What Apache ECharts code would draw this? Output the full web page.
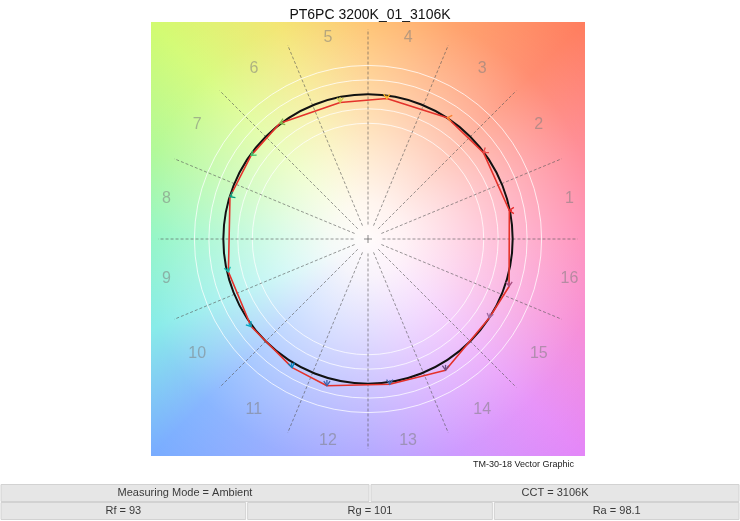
<!DOCTYPE html>
<html>
<head>
<meta http-equiv="Content-Type" content="text/html;charset=utf-8" />
<title>TM-30-18 Vector Graphic</title>
<script src="https://cdnjs.cloudflare.com/ajax/libs/echarts/6.0.0/echarts.min.js"></script>
<style>
  html, body { margin: 0; padding: 0; background: #fff; }
  #vetor { width: 740px; height: 521px; }
</style>
</head>
<body>
<div id="vetor"></div>
<script>

	var titulo = 'PT6PC 3200K_01_3106K';
	var rodape = 'TM-30-18 Vector Graphic';

	var rotulos = ['1','2','3','4','5','6','7','8','9','10','11','12','13','14','15','16'];
	var angulosCentro = [11.25, 33.75, 56.25, 78.75, 101.25, 123.75, 146.25, 168.75, 191.25, 213.75, 236.25, 258.75, 281.25, 303.75, 326.25, 348.75];
	var angulosLimite = [0, 22.5, 45, 67.5, 90, 112.5, 135, 157.5, 180, 202.5, 225, 247.5, 270, 292.5, 315, 337.5];
	var coresBins = ['#e62828','#e74b4b','#fb812e','#ffb529','#cbca46','#7eb94c','#41c06d','#009c7c','#16bcb0','#00a4bf','#0085c3','#3b62aa','#4568ae','#6a4e85','#9d69a1','#a74f81'];

	// fonte de teste (poligono vermelho)
	var testeX = [0.977, 0.798, 0.548, 0.130, -0.193, -0.609, -0.808, -0.954, -0.965, -0.808, -0.524, -0.284, 0.150, 0.536, 0.838, 0.975];
	var testeY = [0.197, 0.597, 0.838, 0.971, 0.944, 0.800, 0.578, 0.292, -0.227, -0.605, -0.889, -1.014, -1.004, -0.907, -0.546, -0.328];
	// origem das setas (referencia)
	var refX = [0.995, 0.812, 0.565, 0.130, -0.193, -0.588, -0.790, -0.938, -0.972, -0.825, -0.530, -0.284, 0.150, 0.536, 0.845, 0.975];
	var refY = [0.197, 0.607, 0.835, 0.992, 0.982, 0.808, 0.592, 0.300, -0.200, -0.583, -0.858, -0.975, -0.978, -0.870, -0.515, -0.295];

	var aneis = [0.8, 0.9, 1.1, 1.2];
	var referencia = [1];

	var linha1 = ['Measuring Mode = Ambient', 'CCT = 3106K'];
	var linha2 = ['Rf = 93', 'Rg = 101', 'Ra = 98.1'];

	// cores do fundo (angulo de matiz -> cor)
	var fundoAngulos = [0, 22.5, 45, 67.5, 90, 112.5, 135, 157.5, 180, 202.5, 225, 247.5, 270, 292.5, 315, 337.5];
	var fundoCores = ['#ff7fb0','#ff7f8c','#ff7d5e','#ff975a','#ffb95a','#f2e262','#d2fb70','#a8f88c','#7ef4bc','#78e9e6','#78acff','#8ea2ff','#a497ff','#c78dff','#e486f8','#f680d2'];

	var fonte = '"Liberation Sans", Arial, Helvetica, sans-serif';

	function criaFundo(lado) {
		var c = document.createElement('canvas');
		c.width = lado; c.height = lado;
		var ctx = c.getContext('2d');
		var m = lado / 2;
		if (ctx.createConicGradient) {
			var g = ctx.createConicGradient(0, m, m);
			var paradas = [];
			for (var i = 0; i < fundoAngulos.length; i++) {
				paradas.push([((360 - fundoAngulos[i]) % 360) / 360, fundoCores[i]]);
			}
			paradas.sort(function(a, b){ return a[0] - b[0]; });
			paradas.forEach(function(p){ g.addColorStop(p[0], p[1]); });
			g.addColorStop(1, fundoCores[0]);
			ctx.fillStyle = g;
			ctx.fillRect(0, 0, lado, lado);
		} else {
			for (var j = 0; j < fundoAngulos.length; j++) {
				var a0 = -(fundoAngulos[j] - 11.25) * Math.PI / 180, a1 = -(fundoAngulos[j] + 11.25) * Math.PI / 180;
				ctx.beginPath(); ctx.moveTo(m, m); ctx.arc(m, m, lado, a0, a1, true); ctx.closePath();
				ctx.fillStyle = fundoCores[j]; ctx.fill();
			}
		}
		var rad = Math.sqrt(2) * m;
		var r = ctx.createRadialGradient(m, m, 0, m, m, rad);
		r.addColorStop(0, 'rgba(255,251,251,1)');
		r.addColorStop(0.12, 'rgba(255,251,251,0.92)');
		r.addColorStop(0.3, 'rgba(255,255,255,0.68)');
		r.addColorStop(0.5, 'rgba(255,255,255,0.42)');
		r.addColorStop(0.75, 'rgba(255,255,255,0.12)');
		r.addColorStop(1, 'rgba(255,255,255,0)');
		ctx.fillStyle = r;
		ctx.fillRect(0, 0, lado, lado);
		return c;
	}

	var gLeft = 151, gTop = 22, gLado = 434;
	var imagemFundo = criaFundo(gLado);

	var graficos = [
		{ type: 'image', left: gLeft, top: gTop, z: -1, silent: true, style: { image: imagemFundo, width: gLado, height: gLado } },
		{ type: 'text', x: 574, y: 465, silent: true, style: { text: rodape, fill: '#222', font: '9px ' + fonte, align: 'right', textAlign: 'right', verticalAlign: 'middle', textVerticalAlign: 'middle' } }
	];

	// tabela de indices
	function linhaTabela(textos, topo, altura) {
		var esq = 1, larg = 738, gap = 2;
		var w = (larg - gap * (textos.length - 1)) / textos.length;
		textos.forEach(function(t, i){
			var x = esq + i * (w + gap);
			graficos.push({ type: 'rect', silent: true, shape: { x: x, y: topo, width: w, height: altura }, style: { fill: '#e6e6e6', stroke: '#d2d2d2', lineWidth: 1 } });
			graficos.push({ type: 'text', silent: true, x: x + w / 2, y: topo + altura / 2, style: { text: t, fill: '#3a3a3a', font: '11px ' + fonte, align: 'center', textAlign: 'center', verticalAlign: 'middle', textVerticalAlign: 'middle' } });
		});
	}
	linhaTabela(linha1, 484.5, 17);
	linhaTabela(linha2, 502.5, 17);

	function anel(cor, largura) {
		return function(params, api) {
			var c = api.coord([0, 0]);
			var r = api.size([api.value(2), 0])[0];
			return { type: 'circle', shape: { cx: c[0], cy: c[1], r: r }, style: { fill: 'none', stroke: cor, lineWidth: largura } };
		};
	}

	var rad = Math.PI / 180;

	var option = {
		animation: false,
		title: { text: titulo, left: 'center', top: 3, textStyle: { fontSize: 14, fontWeight: 'normal', color: '#111', fontFamily: fonte } },
		grid: { left: gLeft, top: gTop, width: gLado, height: gLado },
		xAxis: { type: 'value', min: -1.5, max: 1.5, show: false },
		yAxis: { type: 'value', min: -1.5, max: 1.5, show: false },
		graphic: graficos,
		series: [
			{
				type: 'custom', name: 'aneis', silent: true, z: 2,
				data: aneis.map(function(r){ return [0, 0, r]; }),
				renderItem: anel('rgba(255,255,255,0.75)', 1)
			},
			{
				type: 'custom', name: 'limites', silent: true, z: 3,
				data: angulosLimite.map(function(a){ return [0, 0, a]; }),
				renderItem: function(params, api) {
					var a = api.value(2) * rad;
					var p1 = api.coord([0.1 * Math.cos(a), 0.1 * Math.sin(a)]);
					var p2 = api.coord([1.45 * Math.cos(a), 1.45 * Math.sin(a)]);
					return { type: 'line', shape: { x1: p1[0], y1: p1[1], x2: p2[0], y2: p2[1] }, style: { stroke: 'rgba(85,85,85,0.6)', lineWidth: 1, lineDash: [3, 2] } };
				}
			},
			{
				type: 'custom', name: 'rotulos', silent: true, z: 3,
				data: angulosCentro.map(function(a, i){ return [0, 0, a, i]; }),
				renderItem: function(params, api) {
					var a = api.value(2) * rad;
					var p = api.coord([1.42 * Math.cos(a), 1.42 * Math.sin(a)]);
					return { type: 'text', x: p[0], y: p[1], style: { text: rotulos[api.value(3)], fill: 'rgba(125,125,125,0.55)', font: '16px ' + fonte, align: 'center', textAlign: 'center', verticalAlign: 'middle', textVerticalAlign: 'middle' } };
				}
			},
			{
				type: 'custom', name: 'centro', silent: true, z: 3,
				data: [[0, 0]],
				renderItem: function(params, api) {
					var c = api.coord([0, 0]);
					return { type: 'group', children: [
						{ type: 'line', shape: { x1: c[0] - 4, y1: c[1], x2: c[0] + 4, y2: c[1] }, style: { stroke: 'rgba(90,90,90,0.7)', lineWidth: 1 } },
						{ type: 'line', shape: { x1: c[0], y1: c[1] - 4, x2: c[0], y2: c[1] + 4 }, style: { stroke: 'rgba(90,90,90,0.7)', lineWidth: 1 } }
					] };
				}
			},
			{
				type: 'custom', name: 'referencia', silent: true, z: 4,
				data: referencia.map(function(r){ return [0, 0, r]; }),
				renderItem: anel('#111', 2)
			},
			{
				type: 'line', name: 'teste', silent: true, z: 5,
				data: testeX.concat([testeX[0]]).map(function(x, i){ return [x, (testeY.concat([testeY[0]]))[i]]; }),
				symbol: 'none',
				lineStyle: { color: '#e4322b', width: 1.6 }
			},
			{
				type: 'custom', name: 'setas', silent: true, z: 6,
				data: testeX.map(function(x, i){ return [refX[i], refY[i], x, testeY[i], i]; }),
				renderItem: function(params, api) {
					var p0 = api.coord([api.value(0), api.value(1)]);
					var p1 = api.coord([api.value(2), api.value(3)]);
					var cor = coresBins[api.value(4)];
					var ang = Math.atan2(p1[1] - p0[1], p1[0] - p0[0]);
					var t = 5.5, ab = 35 * rad;
					var w1 = [p1[0] - t * Math.cos(ang - ab), p1[1] - t * Math.sin(ang - ab)];
					var w2 = [p1[0] - t * Math.cos(ang + ab), p1[1] - t * Math.sin(ang + ab)];
					return { type: 'group', children: [
						{ type: 'line', shape: { x1: p0[0], y1: p0[1], x2: p1[0], y2: p1[1] }, style: { stroke: cor, lineWidth: 1.3 } },
						{ type: 'polyline', shape: { points: [w1, p1, w2] }, style: { stroke: cor, lineWidth: 1.3, fill: 'none' } }
					] };
				}
			}
		]
	};

	var chart = echarts.init(document.getElementById('vetor'));
	chart.setOption(option);

</script>
</body>
</html>
